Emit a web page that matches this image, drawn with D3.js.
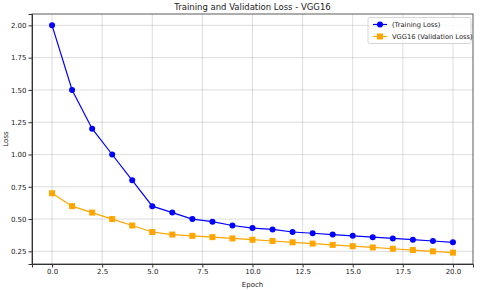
<!DOCTYPE html>
<html>
<head>
<meta charset="utf-8">
<script src="https://cdn.jsdelivr.net/npm/d3@7"></script>
<style>
  body { margin: 0; background: #fff; }
  text { font-family: "DejaVu Sans", sans-serif; fill: #222; }
  .grid line { stroke: #b0b0b0; stroke-opacity: 0.55; stroke-width: 0.8; }
  .axis path, .axis line { stroke: #333; }
</style>
</head>
<body>
<div id="chart-area"></div>
<script>
/* Data */
var epochs = d3.range(0, 21);
var trainLoss = [2.0, 1.5, 1.2, 1.0, 0.8, 0.6, 0.55, 0.5, 0.48, 0.45, 0.43, 0.42, 0.40, 0.39, 0.38, 0.37, 0.36, 0.35, 0.34, 0.33, 0.32];
var valLoss = [0.7, 0.6, 0.55, 0.5, 0.45, 0.4, 0.38, 0.37, 0.36, 0.35, 0.34, 0.33, 0.32, 0.31, 0.30, 0.29, 0.28, 0.27, 0.26, 0.25, 0.24];
var xTicks = [0, 2.5, 5, 7.5, 10, 12.5, 15, 17.5, 20];
var yTicks = [0.25, 0.5, 0.75, 1.0, 1.25, 1.5, 1.75, 2.0];
var seriesNames = ["(Training Loss)", "VGG16 (Validation Loss)"];

/* Margin convention */
var margin = {top: 14, right: 7, bottom: 26, left: 32};
var width = 480 - margin.left - margin.right;
var height = 290 - margin.top - margin.bottom;

var svg = d3.select("#chart-area").append("svg")
  .attr("width", 480)
  .attr("height", 290);
var g = svg.append("g")
  .attr("transform", "translate(" + margin.left + "," + margin.top + ")");

/* Scales */
var x = d3.scaleLinear().domain([-1, 21]).range([0, width]);
var y = d3.scaleLinear().domain([0.152, 2.088]).range([height, 0]);

/* Grid */
g.append("g").attr("class", "grid")
  .selectAll("line").data(xTicks).enter().append("line")
  .attr("x1", d => x(d)).attr("x2", d => x(d))
  .attr("y1", 0).attr("y2", height);
g.append("g").attr("class", "grid")
  .selectAll("line").data(yTicks).enter().append("line")
  .attr("y1", d => y(d)).attr("y2", d => y(d))
  .attr("x1", 0).attr("x2", width);

/* Axes */
var xAxisCall = d3.axisBottom(x).tickValues(xTicks).tickFormat(d3.format(".1f")).tickSize(3.5).tickPadding(2);
g.append("g").attr("class", "x axis")
  .attr("transform", "translate(0," + height + ")")
  .call(xAxisCall)
  .selectAll("text").attr("font-size", "7px");

var yAxisCall = d3.axisLeft(y).tickValues(yTicks).tickFormat(d3.format(".2f")).tickSize(3.5).tickPadding(2);
g.append("g").attr("class", "y axis")
  .call(yAxisCall)
  .selectAll("text").attr("font-size", "7px");

// frame
g.append("rect")
  .attr("width", width).attr("height", height)
  .attr("fill", "none").attr("stroke", "#333").attr("stroke-width", 0.8);

/* Lines */
var line = d3.line().x((d, i) => x(epochs[i])).y(d => y(d));

g.append("path").datum(trainLoss)
  .attr("fill", "none").attr("stroke", "blue").attr("stroke-width", 1.2)
  .attr("d", line);
g.selectAll(".train-dot").data(trainLoss).enter().append("circle")
  .attr("class", "train-dot")
  .attr("cx", (d, i) => x(epochs[i])).attr("cy", d => y(d))
  .attr("r", 3).attr("fill", "blue");

g.append("path").datum(valLoss)
  .attr("fill", "none").attr("stroke", "orange").attr("stroke-width", 1.2)
  .attr("d", line);
g.selectAll(".val-dot").data(valLoss).enter().append("rect")
  .attr("class", "val-dot")
  .attr("x", (d, i) => x(epochs[i]) - 3).attr("y", d => y(d) - 3)
  .attr("width", 6).attr("height", 6).attr("fill", "orange");

/* Labels */
svg.append("text")
  .attr("x", margin.left + width / 2).attr("y", 10)
  .attr("text-anchor", "middle").attr("font-size", "8.5px")
  .text("Training and Validation Loss - VGG16");

svg.append("text")
  .attr("x", margin.left + width / 2).attr("y", 287)
  .attr("text-anchor", "middle").attr("font-size", "7px")
  .text("Epoch");

svg.append("text")
  .attr("transform", "rotate(-90)")
  .attr("x", -(margin.top + height / 2)).attr("y", 8)
  .attr("text-anchor", "middle").attr("font-size", "7px")
  .text("Loss");

/* Legend */
var legend = g.append("g")
  .attr("transform", "translate(" + (width - 105) + ",3.5)");
legend.append("rect")
  .attr("width", 103).attr("height", 26).attr("rx", 2)
  .attr("fill", "#fff").attr("fill-opacity", 0.85)
  .attr("stroke", "#ccc").attr("stroke-width", 0.8);

var colors = ["blue", "orange"];
seriesNames.forEach((name, i) => {
  var row = legend.append("g").attr("transform", "translate(5," + (7 + i * 12) + ")");
  row.append("line").attr("x1", 0).attr("x2", 14)
    .attr("stroke", colors[i]).attr("stroke-width", 1.2);
  if (i === 0) {
    row.append("circle").attr("cx", 7).attr("r", 3).attr("fill", colors[i]);
  } else {
    row.append("rect").attr("x", 4).attr("y", -3).attr("width", 6).attr("height", 6).attr("fill", colors[i]);
  }
  row.append("text").attr("x", 19).attr("y", 2.5)
    .attr("font-size", "6.7px").text(name);
});
</script>
</body>
</html>
